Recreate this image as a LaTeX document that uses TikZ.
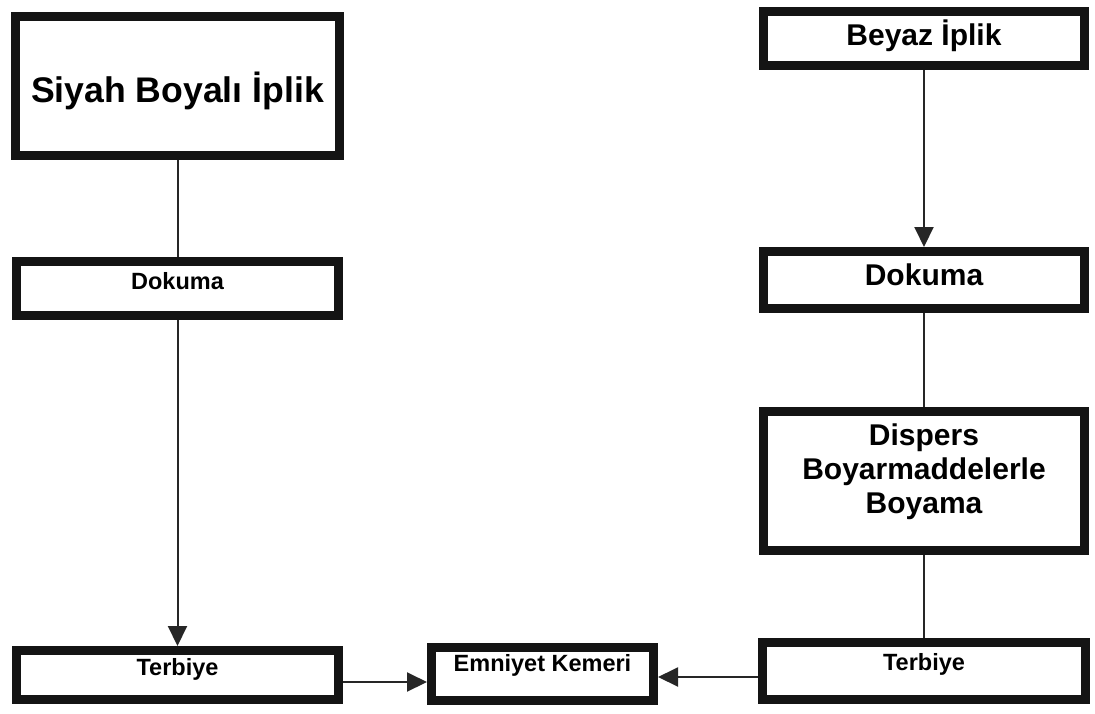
\documentclass[tikz,border=0pt]{standalone}
\usepackage{fontspec}
\setmainfont{Liberation Sans}
\usetikzlibrary{arrows.meta}
\begin{document}
\begin{tikzpicture}[x=1pt,y=-1pt,
  box/.style={draw=black!92, line width=9pt, outer sep=4.5pt, inner sep=0pt,
              fill=white, align=center},
  fbig/.style={font=\fontsize{35.6}{40}\selectfont\bfseries},
  fmid/.style={font=\fontsize{30}{34}\selectfont\bfseries},
  fsmall/.style={font=\fontsize{23.5}{27}\selectfont\bfseries},
  tx/.style 2 args={text height=#1, text depth=#2},
  link/.style={draw=black!85, line width=2pt},
  arr/.style={link, -{Triangle[length=20pt,width=19pt]}}]
\useasboundingbox (0,0) rectangle (1095,713);

% left column: black-dyed yarn
\node[box, fbig, tx={33.5pt}{0pt}, minimum width=324pt, minimum height=139pt]
  (sb) at (177.5,86) {Siyah Boyalı İplik};
\node[box, fsmall, tx={16.8pt}{14pt}, minimum width=322pt, minimum height=54pt]
  (dl) at (177.5,288.5) {Dokuma};
\node[box, fsmall, tx={16.8pt}{16pt}, minimum width=322pt, minimum height=49pt]
  (tl) at (177.5,675) {Terbiye};

% centre: end product
\node[box, fsmall, tx={16.8pt}{22pt}, minimum width=222pt, minimum height=53pt]
  (em) at (542.5,674) {Emniyet Kemeri};

% right column: white yarn, piece-dyed
\node[box, fmid, tx={21.1pt}{7pt}, minimum width=321pt, minimum height=54pt]
  (by) at (924,38.5) {Beyaz İplik};
\node[box, fmid, tx={21.5pt}{10pt}, minimum width=321pt, minimum height=57pt]
  (dr) at (924,280) {Dokuma};
\node[box, fmid, tx={89.5pt}{25.5pt}, minimum width=321pt, minimum height=139pt]
  (ds) at (924,481) {Dispers\\Boyarmaddelerle\\Boyama};
\node[box, fsmall, tx={16.8pt}{18pt}, minimum width=323pt, minimum height=57pt]
  (tr) at (924,671) {Terbiye};

% connectors
\draw[link] (sb) -- (dl);
\draw[arr]  (dl) -- (tl);
\draw[arr]  (by) -- (dr);
\draw[link] (dr) -- (ds);
\draw[link] (ds) -- (tr);
\draw[arr]  ([yshift=-7pt]tl.east) -- ([yshift=-7pt]tl.east -| em.west);
\draw[arr]  ([yshift=-6pt]tr.west) -- ([yshift=-6pt]tr.west -| em.east);
\end{tikzpicture}
\end{document}
